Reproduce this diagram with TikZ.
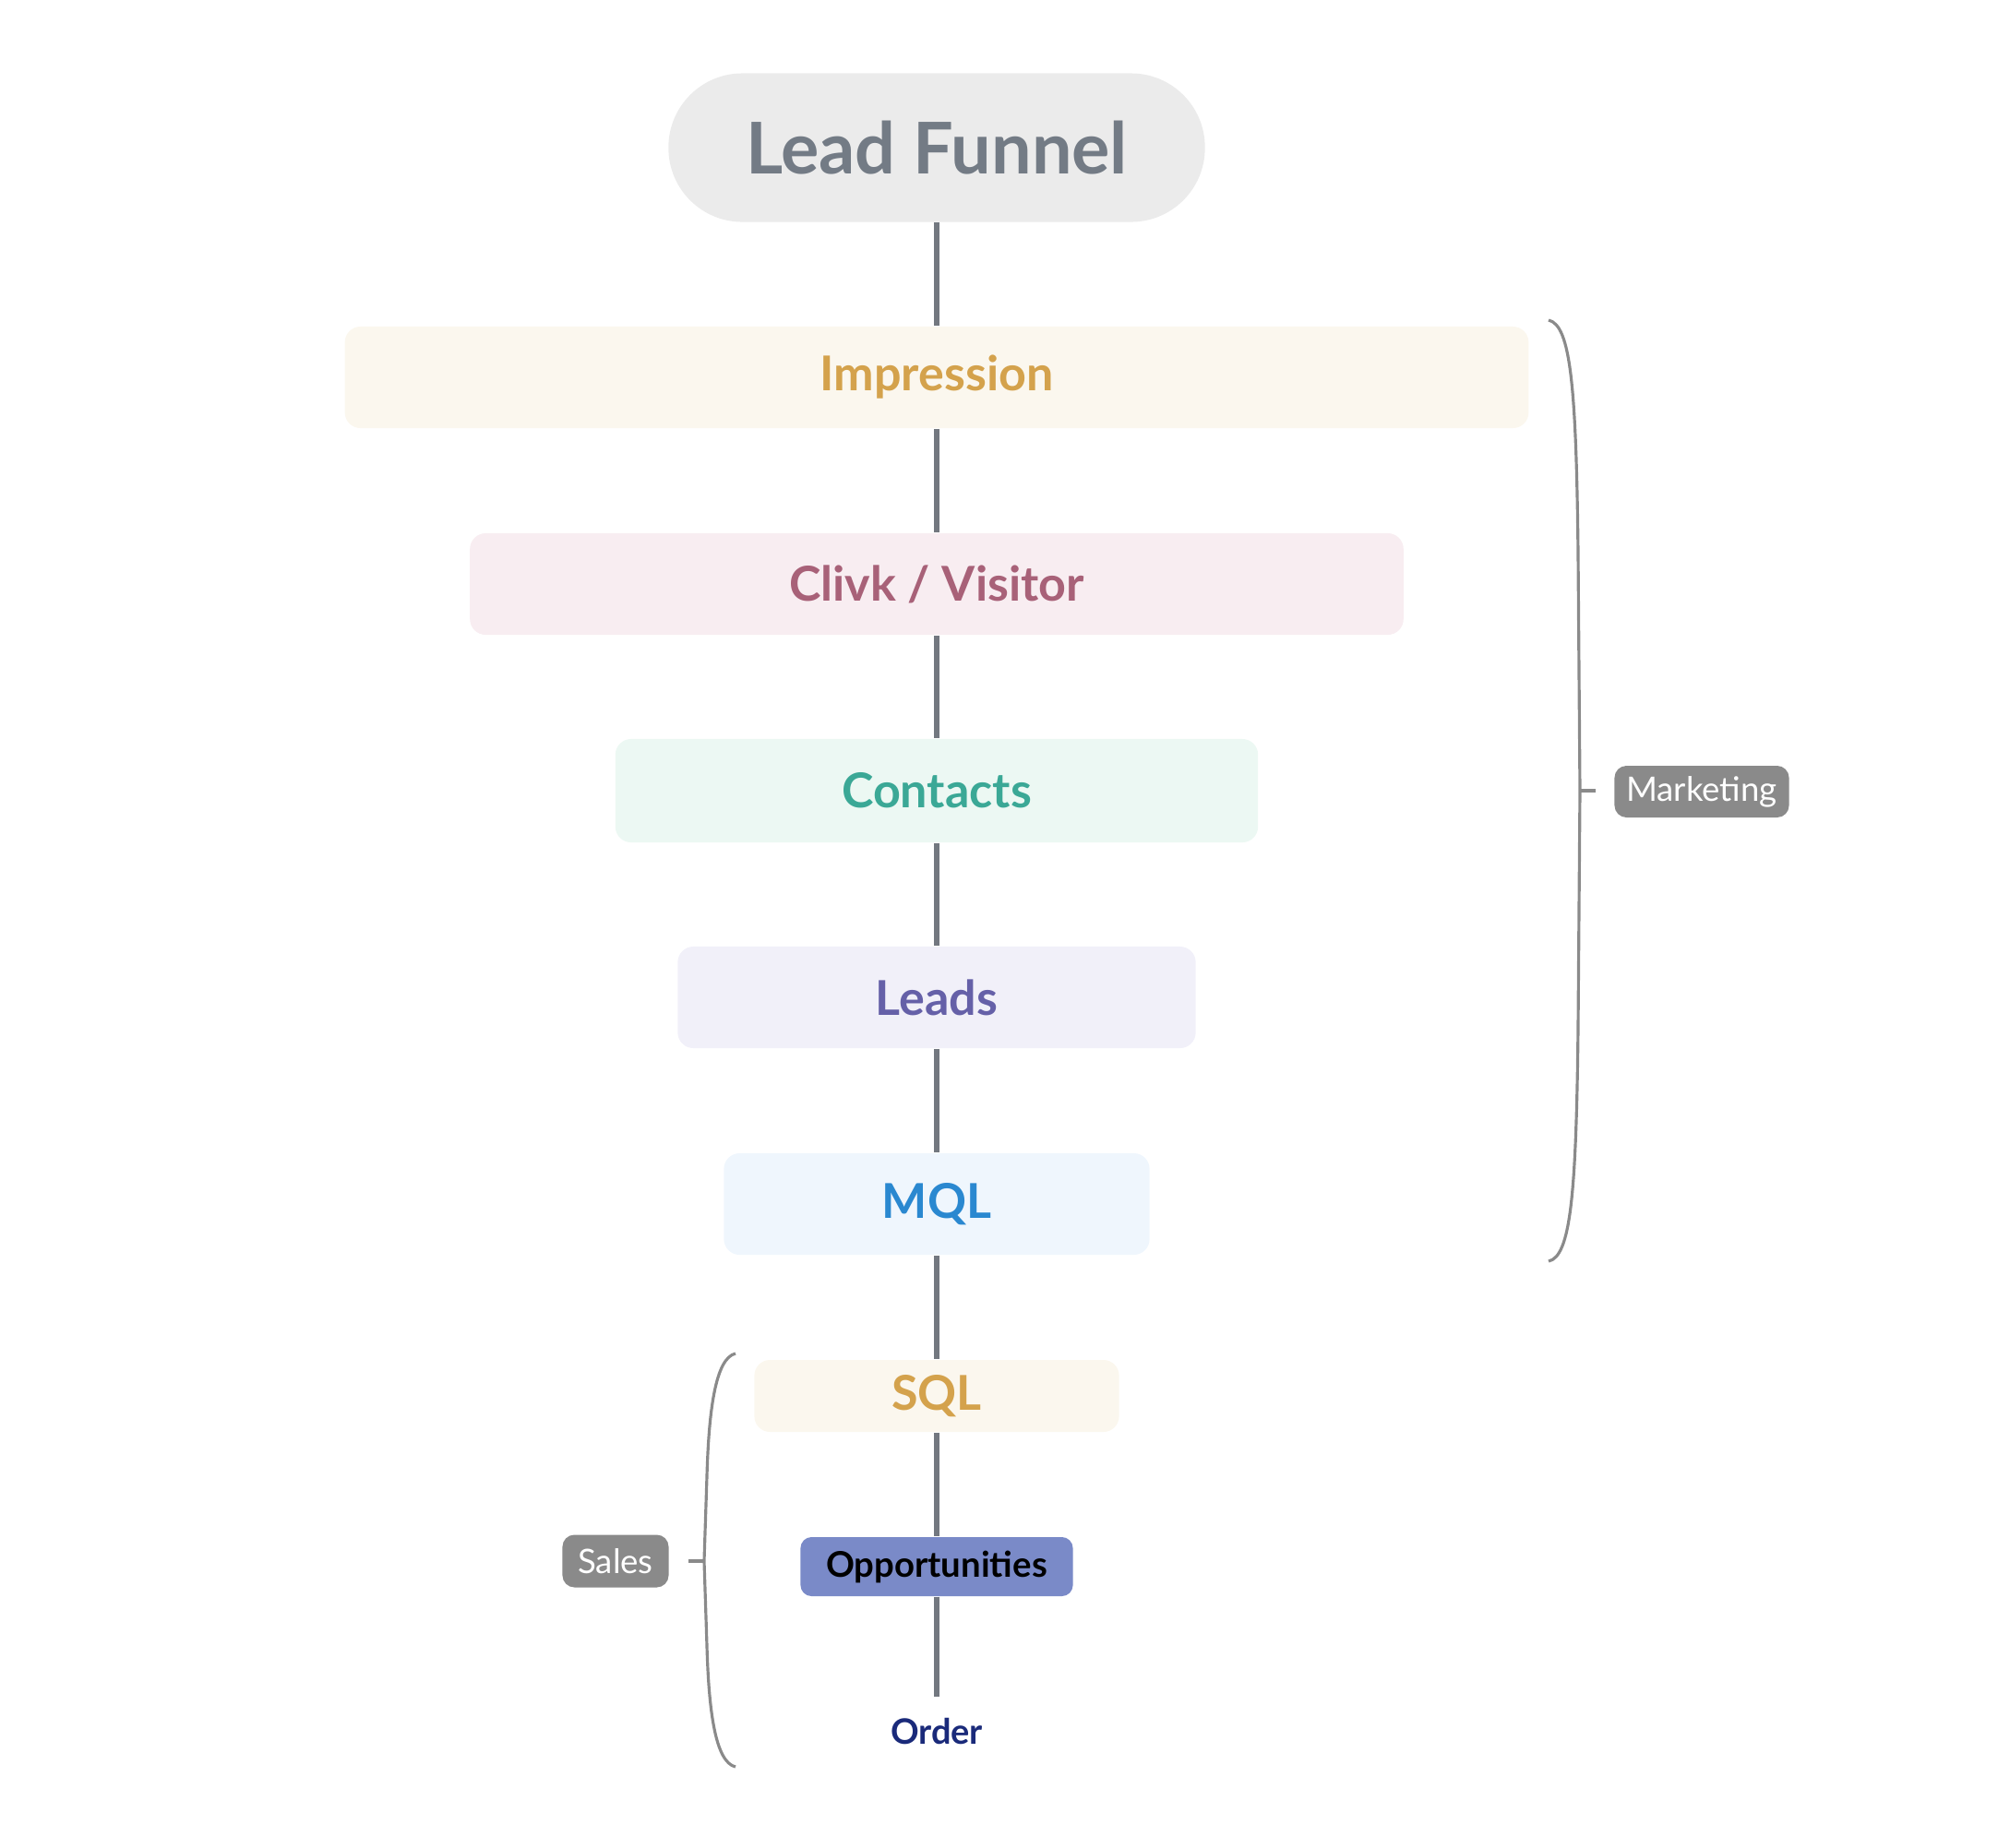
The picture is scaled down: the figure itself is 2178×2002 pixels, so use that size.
\documentclass[tikz,border=0pt]{standalone}
\usepackage{fontspec}
\setmainfont{Lato}
\usetikzlibrary{positioning}
\definecolor{stemgrey}{HTML}{737880}
\definecolor{bracegrey}{HTML}{8A8A8A}
\definecolor{rootfill}{HTML}{EBEBEB}
\definecolor{roottext}{HTML}{737B85}
\definecolor{goldfill}{HTML}{FBF7EE}
\definecolor{goldtext}{HTML}{D4A24C}
\definecolor{rosefill}{HTML}{F8EDF1}
\definecolor{rosetext}{HTML}{A86178}
\definecolor{mintfill}{HTML}{ECF8F3}
\definecolor{minttext}{HTML}{3BA896}
\definecolor{lilacfill}{HTML}{F1F0F9}
\definecolor{lilactext}{HTML}{6560A8}
\definecolor{skyfill}{HTML}{EFF6FD}
\definecolor{skytext}{HTML}{2A88D0}
\definecolor{oppfill}{HTML}{7A8AC8}
\definecolor{navytext}{HTML}{1A2A7A}
\tikzset{
  stagebox/.style={rounded corners=0.17cm, inner sep=0pt, font=\bfseries\fontsize{14.8}{17}\selectfont},
  tagbox/.style={rounded corners=0.13cm, fill=bracegrey, text=white, inner sep=0pt, font=\fontsize{10.4}{12}\selectfont},
  stem/.style={stemgrey, line width=1.7pt},
  bracket/.style={bracegrey, line width=0.9pt}
}
\begin{document}
\begin{tikzpicture}[x=0.01cm,y=-0.01cm]
  \useasboundingbox (0,0) rectangle (2178,2002);
  % root of the funnel
  \node[rounded corners=0.8cm, fill=rootfill, text=roottext, minimum width=5.81cm, minimum height=1.61cm,
        font=\bfseries\fontsize{22}{26}\selectfont] (root) at (1015,160) {Lead Funnel};
  % marketing stages
  \node[stagebox, fill=goldfill, text=goldtext, minimum width=12.82cm, minimum height=1.10cm] (impression) at (1015,409) {Impression};
  \node[stagebox, fill=rosefill, text=rosetext, minimum width=10.11cm, minimum height=1.10cm] (visitor) at (1015,633) {Clivk / Visitor};
  \node[stagebox, fill=mintfill, text=minttext, minimum width=6.96cm, minimum height=1.12cm] (contacts) at (1015,857) {Contacts};
  \node[stagebox, fill=lilacfill, text=lilactext, minimum width=5.61cm, minimum height=1.10cm] (leads) at (1015,1081) {Leads};
  \node[stagebox, fill=skyfill, text=skytext, minimum width=4.61cm, minimum height=1.10cm] (mql) at (1015,1305) {MQL};
  % sales stages
  \node[stagebox, fill=goldfill, text=goldtext, minimum width=3.95cm, minimum height=0.78cm] (sql) at (1015,1513) {SQL};
  \node[stagebox, rounded corners=0.12cm, fill=oppfill, text=black, minimum width=2.95cm, minimum height=0.64cm,
        font=\bfseries\fontsize{10.9}{13}\selectfont] (opps) at (1015,1698) {Opportunities};
  \node[stagebox, text=navytext, minimum height=0.74cm, font=\bfseries\fontsize{10.8}{13}\selectfont] (order) at (1015,1877) {Order};
  % the stem
  \draw[stem] (root) -- (impression);
  \draw[stem] (impression) -- (visitor);
  \draw[stem] (visitor) -- (contacts);
  \draw[stem] (contacts) -- (leads);
  \draw[stem] (leads) -- (mql);
  \draw[stem] (mql) -- (sql);
  \draw[stem] (sql) -- (opps);
  \draw[stem] (opps) -- (order);
  % marketing bracket
  \node[tagbox, minimum width=1.89cm, minimum height=0.56cm] (marketing) at (1844,858) {Marketing};
  \draw[bracket] (1678,347) .. controls (1702,352) and (1708,420) .. (1710,600) -- (1712,857)
                 -- (1710,1114) .. controls (1708,1294) and (1702,1362) .. (1678,1367);
  \draw[bracket] (1712,857) -- (1729,857);
  % sales bracket
  \node[tagbox, minimum width=1.15cm, minimum height=0.57cm] (sales) at (667,1692) {Sales};
  \draw[bracket] (797,1467) .. controls (775,1472) and (768,1530) .. (766,1600) -- (763,1692)
                 -- (766,1784) .. controls (768,1854) and (775,1910) .. (797,1915);
  \draw[bracket] (763,1692) -- (746,1692);
\end{tikzpicture}
\end{document}
